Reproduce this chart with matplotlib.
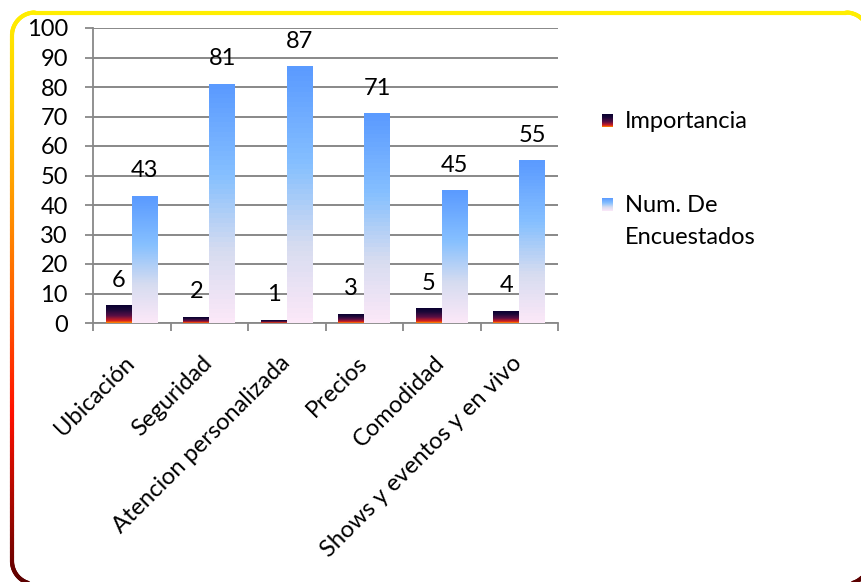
import matplotlib.pyplot as plt
import matplotlib.transforms as mtransforms
import numpy as np
from matplotlib.collections import LineCollection
from matplotlib.colors import LinearSegmentedColormap

################################################################################
# Data
categories = ['Ubicación', 'Seguridad', 'Atencion personalizada', 'Precios',
              'Comodidad', 'Shows y eventos y en vivo']
importancia = [6, 2, 1, 3, 5, 4]
encuestados = [43, 81, 87, 71, 45, 55]
series_names = ['Importancia', 'Num. De\nEncuestados']

plt.rcParams['font.family'] = ['Lato', 'DejaVu Sans']
FS = 17

# gradients (bottom -> top of each bar)
cmap_imp = LinearSegmentedColormap.from_list(
    'imp', [(0, '#ff8c00'), (0.12, '#d82020'), (0.4, '#5a0f45'), (0.75, '#1a0838'), (1, '#0a0030')])
cmap_enc = LinearSegmentedColormap.from_list(
    'enc', [(0, '#fbe8f8'), (0.3, '#d6dcf0'), (0.62, '#86c0ff'), (1, '#5b9bff')])
cmap_border = LinearSegmentedColormap.from_list(
    'border', [(0, '#5a0000'), (0.3, '#ff1000'), (0.5, '#ff6000'), (0.67, '#ff9600'),
               (0.84, '#ffc800'), (1, '#ffee00')])

################################################################################
fig = plt.figure(figsize=(8.61, 5.82), dpi=100)

# background overlay in pixel coordinates for border and legend
bg = fig.add_axes([0, 0, 1, 1])
bg.axis('off')

# rounded border with vertical gradient
x0, y0, x1, y1, r = 12, 12.5, 869, 584, 23
pts = []
def arc(cx, cy, a0, a1):
    t = np.linspace(np.radians(a0), np.radians(a1), 30)
    return list(zip(cx + r*np.cos(t), cy + r*np.sin(t)))
pts += arc(x0+r, y0+r, 180, 270)
pts += arc(x1-r, y0+r, 270, 360)
pts += list(zip(np.full(60, x1), np.linspace(y0+r, y1-r, 60)))
pts += arc(x1-r, y1-r, 0, 90)
pts += arc(x0+r, y1-r, 90, 180)
pts += list(zip(np.full(120, x0), np.linspace(y1-r, y0+r, 120)))
pts = np.array(pts)
segs = np.stack([pts[:-1], pts[1:]], axis=1)
ymid = segs[:, :, 1].mean(axis=1)
lc = LineCollection(segs, colors=cmap_border(1 - (ymid - y0)/(y1 - y0)), linewidths=3,
                    capstyle='round')
bg.add_collection(lc)

# legend
grad = np.linspace(1, 0, 50).reshape(-1, 1)
bg.imshow(grad, cmap=cmap_imp, extent=[602, 613, 127, 114], aspect='auto', vmin=0, vmax=1)
bg.imshow(grad, cmap=cmap_enc, extent=[602, 613, 211, 198], aspect='auto', vmin=0, vmax=1)
bg.text(625, 121, series_names[0], fontsize=FS, va='center', ha='left')
for i, line in enumerate(series_names[1].split('\n')):
    bg.text(625, 205 + 32*i, line, fontsize=FS, va='center', ha='left')
bg.set_ylim(582, 0)
bg.set_xlim(0, 861)

################################################################################
ax = fig.add_axes([93/861, 1 - 323/582, 465/861, 295/582])
ax.set_facecolor('none')

w = 0.335
x = np.arange(len(categories)) + 0.5
for xi, v1, v2 in zip(x, importancia, encuestados):
    ax.imshow(grad, cmap=cmap_imp, extent=[xi - w, xi, 0, v1], aspect='auto',
              vmin=0, vmax=1, zorder=3)
    ax.imshow(grad, cmap=cmap_enc, extent=[xi, xi + w, 0, v2], aspect='auto',
              vmin=0, vmax=1, zorder=3)
    ax.annotate(str(v1), (xi - w/2, v1), xytext=(0, 13.5), textcoords='offset points',
                ha='center', va='baseline', fontsize=FS)
    ax.annotate(str(v2), (xi + w/2, v2), xytext=(0, 13.5), textcoords='offset points',
                ha='center', va='baseline', fontsize=FS)
ax.set_xlim(0, len(categories))
ax.set_ylim(0, 100)

ax.set_yticks(range(0, 101, 10))
ax.set_xticks(range(len(categories) + 1))
ax.set_xticklabels([])
ax.set_xticks(x, minor=True)
ax.set_xticklabels(categories, minor=True, rotation=45, ha='right', fontsize=FS)
ax.tick_params(axis='x', which='minor', length=0, pad=21)
ax.tick_params(axis='x', which='major', length=6, width=1.3, color='#888888')
ax.tick_params(axis='y', length=6, width=1.3, color='#888888', pad=12, labelsize=FS)
shift = mtransforms.ScaledTranslation(7/100, 0, fig.dpi_scale_trans)
for lab in ax.get_xticklabels(minor=True):
    lab.set_transform(lab.get_transform() + shift)
ax.grid(axis='y', color='#888888', linewidth=1.4, zorder=0)
ax.set_axisbelow(True)
for s in ['top', 'right']:
    ax.spines[s].set_visible(False)
for s in ['left', 'bottom']:
    ax.spines[s].set_color('#888888')
    ax.spines[s].set_linewidth(1.3)

plt.savefig('out.png', dpi=100)
